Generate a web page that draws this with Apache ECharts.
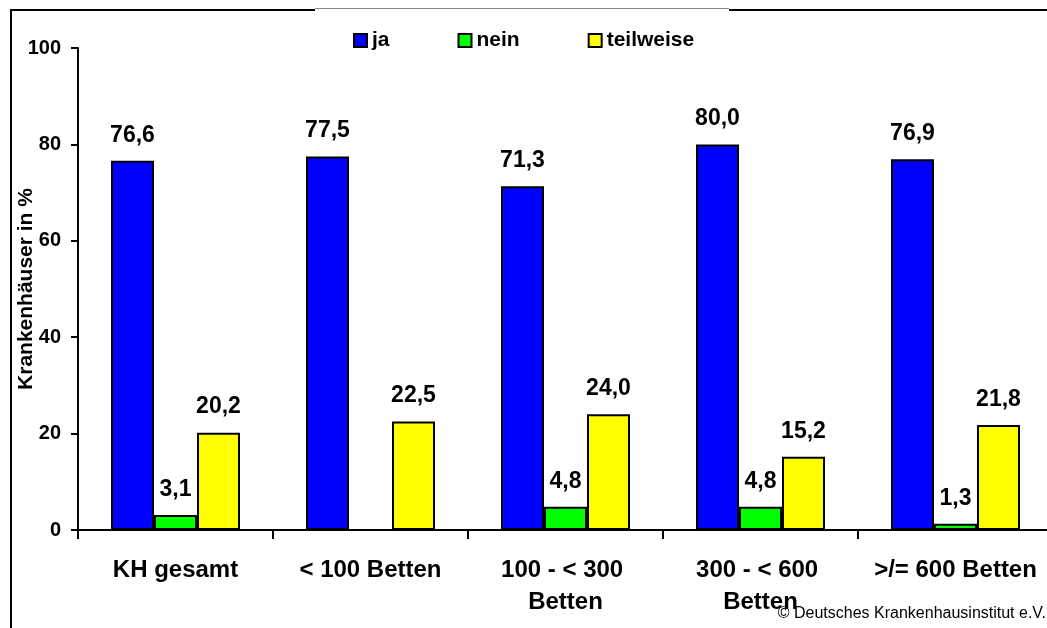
<!DOCTYPE html>
<html>
<head>
<meta charset="utf-8">
<script src="https://cdn.jsdelivr.net/npm/echarts@6/dist/echarts.min.js"></script>
<style>
  html, body { margin: 0; padding: 0; background: #fff; }
  #main { width: 1047px; height: 628px; }
</style>
</head>
<body>
<div id="main"></div>
<script>
// Kategorien und Werte (Krankenhäuser in %)
var categories = ["KH gesamt", "< 100 Betten", "100 - < 300 Betten", "300 - < 600 Betten", ">/= 600 Betten"];
var ja = [76.6, 77.5, 71.3, 80.0, 76.9];
var nein = [3.1, "-", 4.8, 4.8, 1.3];
var teilweise = [20.2, 22.5, 24.0, 15.2, 21.8];
var yTicks = [0, 20, 40, 60, 80, 100];

var font = "Arial, 'Liberation Sans', sans-serif";

function fmt(p) {
  if (typeof p.value !== "number") return "";
  return p.value.toFixed(1).replace(".", ",");
}

function makeSeries(name, data, color) {
  return {
    name: name,
    type: "bar",
    data: data,
    barWidth: 43,
    barGap: "0%",
    itemStyle: { color: color, borderColor: "#000", borderWidth: 2 },
    label: {
      show: true,
      position: "top",
      distance: 14,
      formatter: fmt,
      color: "#000",
      fontFamily: font,
      fontWeight: "bold",
      fontSize: 23
    }
  };
}

var myChart = echarts.init(document.getElementById("main"));
myChart.setOption({
  animation: false,
  backgroundColor: "#fff",
  textStyle: { fontFamily: font },
  legend: {
    top: 25,
    left: 348,
    itemWidth: 13,
    itemHeight: 13,
    itemGap: 68,
    icon: "rect",
    itemStyle: { borderColor: "#000", borderWidth: 2 },
    textStyle: { color: "#000", fontWeight: "bold", fontSize: 21, fontFamily: font },
    data: ["ja", "nein", "teilweise"]
  },
  grid: { left: 78, top: 48, width: 975, height: 482, containLabel: false, outerBoundsMode: "none" },
  xAxis: {
    type: "category",
    data: categories,
    axisLine: { lineStyle: { color: "#000", width: 2 } },
    axisTick: { show: true, interval: 0, length: 9, lineStyle: { color: "#000", width: 2 } },
    axisLabel: {
      interval: 0,
      color: "#000",
      fontWeight: "bold",
      fontSize: 24,
      fontFamily: font,
      margin: 24,
      lineHeight: 32,
      width: 175,
      overflow: "break"
    }
  },
  yAxis: {
    type: "value",
    min: yTicks[0],
    max: yTicks[yTicks.length - 1],
    interval: 20,
    name: "Krankenhäuser in %",
    nameLocation: "middle",
    nameGap: 41,
    nameMoveOverlap: false,
    nameTextStyle: { color: "#000", fontWeight: "bold", fontSize: 21, fontFamily: font },
    axisLine: { show: true, lineStyle: { color: "#000", width: 2 } },
    axisTick: { show: true, length: 7, lineStyle: { color: "#000", width: 2 } },
    splitLine: { show: false },
    axisLabel: { color: "#000", fontWeight: "bold", fontSize: 20, fontFamily: font, margin: 17 }
  },
  graphic: [
    { type: "line", shape: { x1: 11, y1: 9, x2: 11, y2: 640 }, style: { stroke: "#000", lineWidth: 2 } },
    { type: "line", shape: { x1: 10, y1: 10, x2: 315, y2: 10 }, style: { stroke: "#000", lineWidth: 2 } },
    { type: "line", shape: { x1: 315, y1: 8.5, x2: 729, y2: 8.5 }, style: { stroke: "#888", lineWidth: 1 } },
    { type: "line", shape: { x1: 729, y1: 10, x2: 1050, y2: 10 }, style: { stroke: "#000", lineWidth: 2 } },
    {
      type: "text",
      right: 1,
      top: 606,
      style: { text: "© Deutsches Krankenhausinstitut e.V.", fill: "#000", font: "16px " + font }
    }
  ],
  series: [
    makeSeries("ja", ja, "#0000FF"),
    makeSeries("nein", nein, "#00FF00"),
    makeSeries("teilweise", teilweise, "#FFFF00")
  ]
});
</script>
</body>
</html>
